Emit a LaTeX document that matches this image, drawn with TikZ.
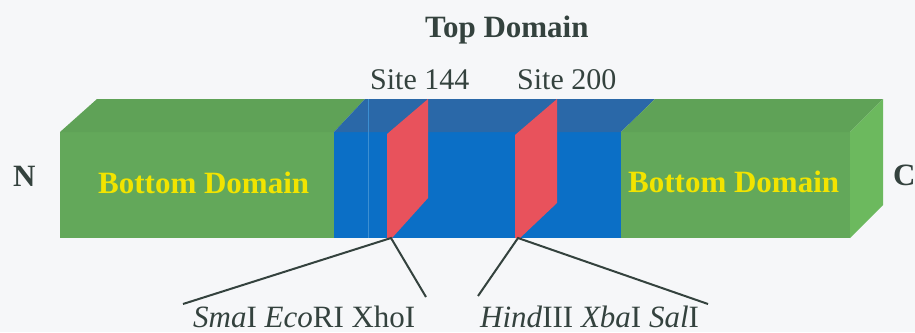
\documentclass[tikz,border=0pt]{standalone}
\usepackage{fontspec}
\setmainfont{Liberation Serif}
\newfontfamily\tnr{Liberation Serif}
\definecolor{bg}{HTML}{F6F7F9}
\definecolor{gfront}{HTML}{63A85A}
\definecolor{gtop}{HTML}{5FA257}
\definecolor{gside}{HTML}{6CB95E}
\definecolor{bfront}{HTML}{0B6FC6}
\definecolor{btop}{HTML}{2A68A8}
\definecolor{bline}{HTML}{3C8FD2}
\definecolor{redp}{HTML}{E8525C}
\definecolor{ink}{HTML}{34423E}
\definecolor{yel}{HTML}{F2E400}
\tikzset{
  lbl/.style={anchor=base west, inner sep=0pt, text=ink, font=\tnr\fontsize{31}{36}\selectfont},
  sitelbl/.style={lbl, font=\tnr\fontsize{30}{36}\selectfont},
  boldlbl/.style={lbl, font=\tnr\fontsize{31}{36}\selectfont\bfseries},
  domlbl/.style={boldlbl, text=yel},
  leader/.style={draw=ink, line width=2pt},
}
\begin{document}
\begin{tikzpicture}[x=1pt,y=-1pt]
\fill[bg] (0,0) rectangle (915,332);
\useasboundingbox (0,0) rectangle (915,332);
% left green
\fill[gfront] (60,132) rectangle (334,238);
\fill[gtop] (60,132) -- (97,99) -- (365,99) -- (334,132) -- cycle;
% blue middle
\fill[bfront] (334,132) rectangle (621,238);
\fill[btop] (334,132) -- (365,99) -- (655,99) -- (621,132) -- cycle;
\draw[bline, line width=0.8pt] (368,99) -- (368,238);
% right green
\fill[gfront] (621,132) rectangle (850,238);
\fill[gtop] (621,132) -- (655,99) -- (883,99) -- (850,132) -- cycle;
\fill[gside] (850,132) -- (883,99) -- (883,205) -- (850,238) -- cycle;
% red cut planes
\fill[redp] (387,134) -- (428,99) -- (428,198) -- (392,238) -- (387,238) -- cycle;
\fill[redp] (515,135) -- (557,99) -- (557,203) -- (520,238) -- (515,238) -- cycle;
% labels
\node[boldlbl] (top) at (425,37) {Top Domain};
\node[sitelbl] (s144) at (370,89) {Site 144};
\node[sitelbl] (s200) at (517,89) {Site 200};
\node[boldlbl] (n) at (13,186) {N};
\node[boldlbl] (c) at (893,185) {C};
\node[domlbl] (bl) at (98,193) {Bottom Domain};
\node[domlbl] (br) at (628,192) {Bottom Domain};
\node[lbl] (enz1) at (193,327) {\textit{Sma}I \textit{Eco}RI XhoI};
\node[lbl] (enz2) at (480,327) {\textit{Hind}III \textit{Xba}I \textit{Sal}I};
% leader lines
\coordinate (a1) at (391,238);
\coordinate (a2) at (518,238);
\coordinate (e1) at (183,304);
\coordinate (e2) at (426,297);
\coordinate (e3) at (478,296);
\coordinate (e4) at (708,304);
\draw[leader] (e1) -- (a1) -- (e2);
\draw[leader] (e3) -- (a2) -- (e4);
\end{tikzpicture}
\end{document}
